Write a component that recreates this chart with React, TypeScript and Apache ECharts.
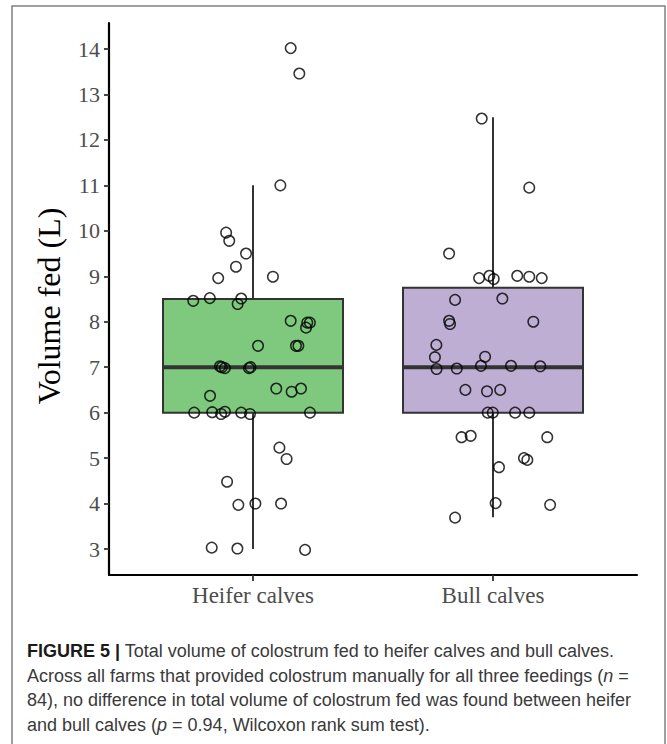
import React, { useEffect, useRef } from "react";
import * as echarts from "echarts";

// Categories and tick labels
const categories = ["Heifer calves", "Bull calves"];
const yTicks = [3, 4, 5, 6, 7, 8, 9, 10, 11, 12, 13, 14];
const yTitle = "Volume fed (L)";

// Box statistics per category (low whisker, Q1, median, Q3, high whisker)
const boxLow = [3, 3.7];
const boxQ1 = [6, 6];
const boxMedian = [7, 7];
const boxQ3 = [8.5, 8.75];
const boxHigh = [11, 12.5];

// Heifer calves: volume fed (L) and horizontal (jittered) position
const heiferVolume = [
  14.02, 13.46, 11.0, 9.96, 9.78, 9.5, 9.21, 8.96, 8.99, 8.46, 8.52, 8.51, 8.39,
  8.02, 7.98, 7.98, 7.87, 7.47, 7.47, 7.47, 7.02, 7.0, 6.98, 6.98, 7.0,
  6.53, 6.46, 6.53, 6.37, 6.0, 6.01, 5.97, 6.02, 6.0, 5.97, 6.0,
  5.23, 4.98, 4.48, 3.97, 4.0, 4.0, 3.03, 3.01, 2.98,
];
const heiferPos = [
  1.157, 1.193, 1.114, 0.888, 0.901, 0.971, 0.929, 0.855, 1.083, 0.751, 0.82, 0.951, 0.936,
  1.157, 1.226, 1.237, 1.221, 1.021, 1.179, 1.189, 0.8625, 0.87, 0.883, 0.983, 0.99,
  1.097, 1.161, 1.2, 0.821, 0.755, 0.83, 0.867, 0.883, 0.951, 0.9875, 1.2375,
  1.11, 1.14, 0.892, 0.939, 1.01, 1.117, 0.828, 0.935, 1.217,
];

// Bull calves
const bullVolume = [
  12.47, 10.95, 9.5, 8.96, 9.01, 8.94, 9.01, 8.99, 8.96, 8.48, 8.51,
  8.02, 7.95, 8.0, 7.49, 7.22, 7.23, 6.96, 6.97, 7.03, 7.03, 7.02,
  6.5, 6.47, 6.5, 6.0, 6.0, 6.0, 6.0, 5.46, 5.49, 5.46, 5.0, 4.96, 4.8,
  4.01, 3.97, 3.69,
];
const bullPos = [
  1.953, 2.151, 1.817, 1.942, 1.985, 2.003, 2.101, 2.151, 2.203, 1.842, 2.039,
  1.817, 1.821, 2.168, 1.764, 1.758, 1.967, 1.765, 1.849, 1.95, 2.075, 2.197,
  1.885, 1.975, 2.03, 1.978, 1.999, 2.092, 2.151, 1.869, 1.907, 2.226, 2.129, 2.143, 2.025,
  2.011, 2.238, 1.842,
];

const boxColors = ["#7FC97F", "#BEAED4"];

const captionLines = [
  "{b|FIGURE 5 |} Total volume of colostrum fed to heifer calves and bull calves.",
  "Across all farms that provided colostrum manually for all three feedings ({i|n} =",
  "84), no difference in total volume of colostrum fed was found between heifer",
  "and bull calves ({i|p} = 0.94, Wilcoxon rank sum test).",
];

export default function App() {
  const ref = useRef<HTMLDivElement>(null);

  useEffect(() => {
    if (!ref.current) return;
    const chart = echarts.init(ref.current, null, { renderer: "svg" });

    const boxData = categories.map((_, i) => [
      i + 1,
      boxLow[i],
      boxQ1[i],
      boxMedian[i],
      boxQ3[i],
      boxHigh[i],
    ]);
    const points = [
      ...heiferVolume.map((v, i) => [heiferPos[i], v]),
      ...bullVolume.map((v, i) => [bullPos[i], v]),
    ];

    const serif = "Liberation Serif";
    const sans = "Liberation Sans";
    const lineColor = "#333333";

    chart.setOption({
      animation: false,
      backgroundColor: "#ffffff",
      grid: { left: 109, top: 23, width: 528, height: 552, containLabel: false },
      xAxis: {
        type: "value",
        min: 0.4,
        max: 2.6,
        splitLine: { show: false },
        axisLine: { show: true, onZero: false, lineStyle: { color: "#000", width: 2.2 } },
        axisTick: {
          show: true,
          customValues: [1, 2],
          length: 6,
          lineStyle: { color: lineColor, width: 1.8 },
        },
        axisLabel: {
          customValues: [1, 2],
          formatter: (v: number) => categories[Math.round(v) - 1] ?? "",
          fontFamily: serif,
          fontSize: 23,
          color: "#4D4D4D",
          margin: 9,
        },
      },
      yAxis: {
        type: "value",
        min: 2.428,
        max: 14.572,
        splitLine: { show: false },
        axisLine: { show: true, onZero: false, lineStyle: { color: "#000", width: 2.2 } },
        axisTick: {
          show: true,
          customValues: yTicks,
          length: 5,
          lineStyle: { color: lineColor, width: 1.8 },
        },
        axisLabel: {
          customValues: yTicks,
          fontFamily: serif,
          fontSize: 22,
          color: "#4D4D4D",
          margin: 9,
        },
      },
      series: [
        {
          type: "custom",
          data: boxData,
          encode: { x: 0, y: [1, 2, 3, 4, 5] },
          z: 2,
          renderItem: (params: any, api: any) => {
            const c = api.value(0);
            const idx = params.dataIndex;
            const halfW = api.size([0.75, 0])[0] / 2;
            const pLow = api.coord([c, api.value(1)]);
            const pQ1 = api.coord([c, api.value(2)]);
            const pMed = api.coord([c, api.value(3)]);
            const pQ3 = api.coord([c, api.value(4)]);
            const pHigh = api.coord([c, api.value(5)]);
            const x = pMed[0];
            return {
              type: "group",
              children: [
                {
                  type: "line",
                  shape: { x1: x, y1: pQ3[1], x2: x, y2: pHigh[1] },
                  style: { stroke: lineColor, lineWidth: 2 },
                },
                {
                  type: "line",
                  shape: { x1: x, y1: pQ1[1], x2: x, y2: pLow[1] },
                  style: { stroke: lineColor, lineWidth: 2 },
                },
                {
                  type: "rect",
                  shape: { x: x - halfW, y: pQ3[1], width: halfW * 2, height: pQ1[1] - pQ3[1] },
                  style: { fill: boxColors[idx], stroke: lineColor, lineWidth: 2 },
                },
                {
                  type: "line",
                  shape: { x1: x - halfW, y1: pMed[1], x2: x + halfW, y2: pMed[1] },
                  style: { stroke: lineColor, lineWidth: 4 },
                },
              ],
            };
          },
        },
        {
          type: "scatter",
          data: points,
          symbol: "circle",
          symbolSize: 10.5,
          z: 5,
          itemStyle: { color: "rgba(0,0,0,0)", borderColor: "#000", borderWidth: 1.5 },
        },
      ],
      graphic: [
        {
          type: "rect",
          silent: true,
          shape: { x: 12, y: 6, width: 653, height: 800 },
          style: { fill: "none", stroke: "#808080", lineWidth: 1.5 },
        },
        {
          type: "text",
          silent: true,
          x: 49,
          y: 306,
          rotation: Math.PI / 2,
          style: {
            text: yTitle,
            fontFamily: serif,
            fontSize: 32,
            fill: "#000",
            align: "center",
            verticalAlign: "middle",
          },
        },
        ...captionLines.map((t, i) => ({
          type: "text",
          silent: true,
          x: 27,
          y: 651 + i * 24.7,
          style: {
            text: t,
            fontFamily: sans,
            fontSize: 18,
            fill: "#3a3a3a",
            verticalAlign: "middle",
            rich: {
              b: { fontFamily: sans, fontSize: 18, fontWeight: "bold", fill: "#1a1a1a" },
              i: { fontFamily: sans, fontSize: 18, fontStyle: "italic", fill: "#3a3a3a" },
            },
          },
        })),
      ],
    });

    return () => chart.dispose();
  }, []);

  return (
    <div
      ref={ref}
      style={{ position: "absolute", left: 0, top: 0, width: 667, height: 744 }}
    />
  );
}
